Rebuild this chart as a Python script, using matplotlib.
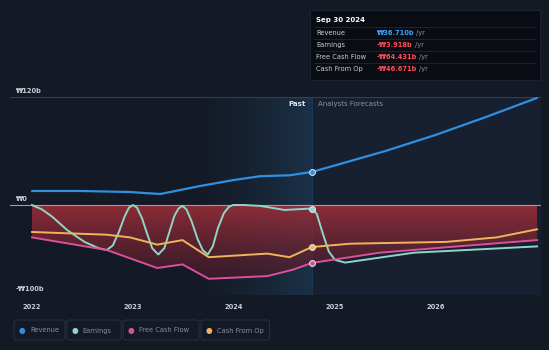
import numpy as np
import matplotlib
matplotlib.use("Agg")
import matplotlib.pyplot as plt
from matplotlib.colors import to_rgb
from matplotlib.patches import FancyBboxPatch, Rectangle

W, H, DPI = 549, 350, 100

BG = "#141a25"
FORECAST_BG = "#172031"
GRID = "#3a4250"
TEXT = "#c9ced6"
TEXT_DIM = "#8a919c"
C_REV = "#2f8fe0"
C_EARN = "#8fd6c8"
C_FCF = "#d9519b"
C_CFO = "#f0b45c"

PRESENT = 2024.77

# values in billions of won
rev_years = [2022.0, 2022.48, 2022.97, 2023.27, 2023.66, 2024.0, 2024.26, 2024.55, 2024.77,
             2025.0, 2025.5, 2026.0, 2026.5, 2027.0]
rev_vals = [15.6, 15.6, 14.4, 12.2, 21.0, 27.8, 32.0, 33.0, 36.7,
            44.0, 60.0, 78.0, 98.0, 119.0]

earn_years = [2022.0, 2022.1, 2022.2, 2022.35, 2022.52, 2022.66, 2022.74, 2022.8, 2022.86,
              2022.92, 2022.96, 2023.0, 2023.04, 2023.09, 2023.14, 2023.19, 2023.25,
              2023.31, 2023.36, 2023.41, 2023.45, 2023.49, 2023.53, 2023.58, 2023.64,
              2023.69, 2023.74, 2023.79, 2023.84, 2023.9, 2023.95, 2023.99, 2024.1,
              2024.26, 2024.5, 2024.77, 2024.82, 2024.88, 2024.94, 2025.0, 2025.1,
              2025.78, 2027.0]
earn_vals = [0.0, -5.0, -13.0, -28.0, -41.0, -48.0, -50.0, -45.0, -30.0,
             -12.0, -3.0, 0.0, -3.0, -15.0, -32.0, -48.0, -55.0,
             -48.0, -30.0, -12.0, -4.0, -1.0, -5.0, -18.0, -38.0,
             -50.0, -55.0, -46.0, -26.0, -9.0, -2.0, 0.0, 0.0,
             -1.0, -5.5, -3.9, -10.0, -32.0, -52.0, -61.0, -64.0,
             -53.0, -46.0]

fcf_years = [2022.0, 2022.74, 2023.24, 2023.49, 2023.75, 2024.33, 2024.58, 2024.77,
             2025.44, 2026.1, 2027.0]
fcf_vals = [-36.0, -50.0, -70.0, -66.0, -82.0, -79.0, -72.0, -64.4,
            -53.0, -47.0, -39.0]

cfo_years = [2022.0, 2022.74, 2022.97, 2023.24, 2023.49, 2023.75, 2024.33, 2024.55, 2024.77,
             2025.15, 2026.1, 2026.6, 2027.0]
cfo_vals = [-30.0, -33.0, -36.0, -44.0, -39.0, -58.0, -54.0, -58.0, -46.7,
            -43.0, -41.0, -36.0, -27.0]

year_ticks = [2022, 2023, 2024, 2025, 2026]
y_ticks = [120, 0, -100]
y_tick_labels = ["₩120b", "₩0", "-₩100b"]

tooltip_title = "Sep 30 2024"
tooltip_rows = ["Revenue", "Earnings", "Free Cash Flow", "Cash From Op"]
tooltip_vals = ["₩36.710b", "-₩3.918b", "-₩64.431b", "-₩46.671b"]
tooltip_colors = ["#3ea0ff", "#ff4d5a", "#ff4d5a", "#ff4d5a"]

legend_names = ["Revenue", "Earnings", "Free Cash Flow", "Cash From Op"]
legend_colors = [C_REV, C_EARN, C_FCF, C_CFO]


def fx(px):
    return px / W


def fy(py):
    return 1 - py / H


plt.rcParams["font.family"] = ["DejaVu Sans"]
fig = plt.figure(figsize=(W / DPI, H / DPI), dpi=DPI, facecolor=BG)
renderer = fig.canvas.get_renderer()

# plot area: x pixels 10..541, y pixels 97..295
px_per_year = 101.0
x0 = 2022.0 - 22 / px_per_year
x1 = 2022.0 + 509 / px_per_year
ax = fig.add_axes([fx(10), fy(295), fx(531), (295 - 97) / H])
ax.set_xlim(x0, x1)
ax.set_ylim(-100, 120)
ax.set_facecolor(BG)
for s in ax.spines.values():
    s.set_visible(False)
ax.set_xticks([])
ax.set_yticks([])

# forecast background
ax.axvspan(PRESENT, x1, color=FORECAST_BG, zorder=0, lw=0)

# past highlight, brighter toward the present
grad = np.zeros((2, 256, 4))
grad[..., :3] = to_rgb("#2a6a9e")
grad[..., 3] = np.linspace(0, 0.42, 256) ** 1.4
ax.imshow(grad, extent=[2023.55, PRESENT, -100, 120], aspect="auto",
          interpolation="bilinear", zorder=0.5)

# red fill between zero and free cash flow
fill = ax.fill_between(fcf_years, 0, fcf_vals, color="none", lw=0, zorder=1)
red = np.zeros((256, 2, 4))
top_c, bot_c = np.array(to_rgb("#a5303a")), np.array(to_rgb("#4a1a2a"))
t = np.linspace(0, 1, 256)[:, None]
red[..., :3] = (top_c * (1 - t) + bot_c * t)[:, None, :]
red[..., 3] = (0.85 - 0.25 * t)
img = ax.imshow(red, extent=[2022.0, 2027.0, -85, 0], aspect="auto",
                interpolation="bilinear", zorder=1)
img.set_clip_path(fill.get_paths()[0], transform=ax.transData)

# grid lines
ax.axhline(120, color=GRID, lw=0.7, zorder=1.5)
ax.axhline(0, color="#9aa0aa", lw=0.8, zorder=1.5)
ax.axhline(-100, color=GRID, lw=0.7, zorder=1.5)

lw = 1.4
ax.plot(rev_years, rev_vals, color=C_REV, lw=1.6, zorder=4, solid_capstyle="round")
ax.plot(earn_years, earn_vals, color=C_EARN, lw=lw, zorder=3, solid_joinstyle="round")
ax.plot(fcf_years, fcf_vals, color=C_FCF, lw=lw, zorder=3, solid_joinstyle="round")
ax.plot(cfo_years, cfo_vals, color=C_CFO, lw=lw, zorder=3, solid_joinstyle="round")

# markers at the present
for yrs, vals, c in [(rev_years, rev_vals, C_REV), (earn_years, earn_vals, C_EARN),
                     (fcf_years, fcf_vals, C_FCF), (cfo_years, cfo_vals, C_CFO)]:
    v = vals[yrs.index(PRESENT)]
    ax.plot([PRESENT], [v], "o", ms=4.2, mfc=c, mec="#e8eef5", mew=0.7, zorder=5)

ax.text(PRESENT - 0.06, 112, "Past", color="#e6e9ee", fontsize=5, fontweight="bold",
        ha="right", va="center", zorder=6)
ax.text(PRESENT + 0.06, 112, "Analysts Forecasts", color=TEXT_DIM, fontsize=5,
        ha="left", va="center", zorder=6)

# y labels, sitting above their lines
for val, lab in zip(y_ticks, y_tick_labels):
    ax.text(2022.0 - 16 / px_per_year, val + 7, lab, color=TEXT, fontsize=4.8,
            ha="left", va="center", fontweight="bold")

# year labels
for yr in year_ticks:
    fig.text(fx(32 + (yr - 2022) * px_per_year), fy(307), str(yr), color=TEXT,
             fontsize=4.8, ha="center", va="center", fontweight="bold")

# tooltip box
fig.patches.append(Rectangle((fx(310), fy(80)), fx(230), (80 - 10) / H,
                             transform=fig.transFigure, facecolor="#090c12",
                             edgecolor="#202634", lw=0.6))
fig.text(fx(316), fy(20), tooltip_title, color="white", fontsize=5,
         fontweight="bold", ha="left", va="center")
for i, (name, val, vc) in enumerate(zip(tooltip_rows, tooltip_vals, tooltip_colors)):
    yy = 33 + i * 12
    fig.lines.append(plt.Line2D([fx(314), fx(536)], [fy(yy - 6), fy(yy - 6)],
                                transform=fig.transFigure, color="#262c38", lw=0.5))
    fig.text(fx(316), fy(yy), name, color=TEXT, fontsize=4.8, ha="left", va="center")
    vt = fig.text(fx(377), fy(yy), val, color=vc, fontsize=4.8, ha="left", va="center",
                  fontweight="bold")
    right_px = vt.get_window_extent(renderer).x1
    fig.text(right_px / W + fx(2), fy(yy), "/yr", color=TEXT_DIM, fontsize=4.8,
             ha="left", va="center")

# legend
x = 14
for name, c in zip(legend_names, legend_colors):
    wbox = 26 + 3.55 * len(name)
    fig.patches.append(FancyBboxPatch((fx(x), fy(340)), fx(wbox), 20 / H,
                                      boxstyle="round,pad=0,rounding_size=0.006",
                                      transform=fig.transFigure, facecolor="none",
                                      edgecolor="#2a3140", lw=0.7))
    fig.text(fx(x + 8), fy(330.5), "●", color=c, fontsize=5.5, ha="center", va="center")
    fig.text(fx(x + 16), fy(330.5), name, color=TEXT_DIM, fontsize=4.8,
             ha="left", va="center")
    x += wbox + 2

fig.savefig("out.png", dpi=DPI, facecolor=BG)
